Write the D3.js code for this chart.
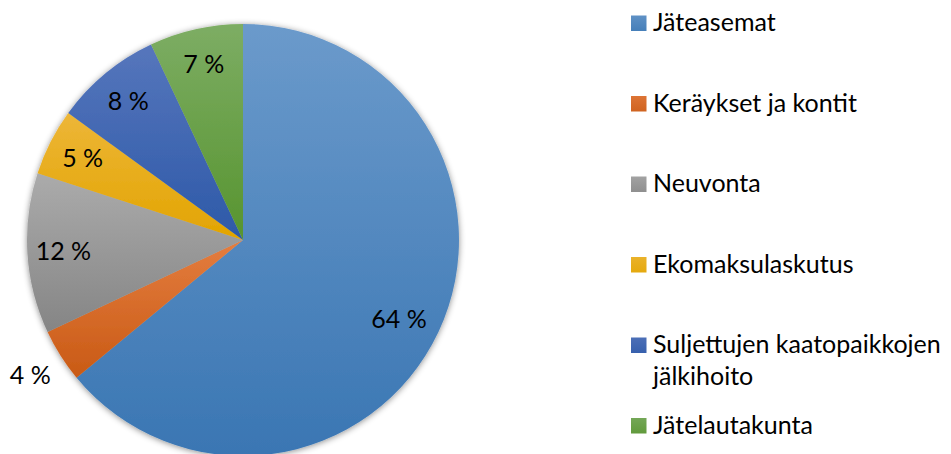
<!DOCTYPE html>
<html><head><meta charset="utf-8">
<script src="https://cdn.jsdelivr.net/npm/d3@7"></script>
<style>body{margin:0;background:#fff}svg{display:block}</style>
</head><body>
<svg id="c" width="951" height="454"></svg>
<script>
// ---- data ----
const categories = ["Jäteasemat", "Keräykset ja kontit", "Neuvonta", "Ekomaksulaskutus", "Suljettujen kaatopaikkojen jälkihoito", "Jätelautakunta"];
const values = [64, 4, 12, 5, 8, 7];
const valueLabels = ["64 %", "4 %", "12 %", "5 %", "8 %", "7 %"];
const legendLines = [["Jäteasemat"], ["Keräykset ja kontit"], ["Neuvonta"], ["Ekomaksulaskutus"], ["Suljettujen kaatopaikkojen", "jälkihoito"], ["Jätelautakunta"]];

// ---- style ----
const colorTop = ["#6b9acb", "#e47d3f", "#ababab", "#edb638", "#5676bc", "#7dad64"];
const colorBottom = ["#3a76b3", "#c95a15", "#858585", "#e2a400", "#2d59a8", "#57942f"];
const FONT = "Lato, 'Open Sans', sans-serif";
const FS = 25;

const svg = d3.select("#c");
const cx = 243, cy = 240, R = 216;
const defs = svg.append("defs");

const f = defs.append("filter").attr("id", "sh").attr("x", "-20%").attr("y", "-20%").attr("width", "140%").attr("height", "140%");
f.append("feDropShadow").attr("dx", 0).attr("dy", 1).attr("stdDeviation", 3).attr("flood-color", "#000").attr("flood-opacity", 0.45);

categories.forEach((c, i) => {
  const g = defs.append("linearGradient").attr("id", "g" + i).attr("x1", 0).attr("y1", 0).attr("x2", 0).attr("y2", 1);
  g.append("stop").attr("offset", "0%").attr("stop-color", colorTop[i]);
  g.append("stop").attr("offset", "100%").attr("stop-color", colorBottom[i]);
  const gl = defs.append("linearGradient").attr("id", "gl" + i).attr("x1", 0).attr("y1", 0).attr("x2", 0).attr("y2", 1);
  gl.append("stop").attr("offset", "0%").attr("stop-color", d3.interpolateRgb(colorTop[i], colorBottom[i])(0.25));
  gl.append("stop").attr("offset", "100%").attr("stop-color", d3.interpolateRgb(colorTop[i], colorBottom[i])(0.75));
});

const pie = d3.pie().sort(null).value(d => d)(values);
const arc = d3.arc().innerRadius(0).outerRadius(R);

const gp = svg.append("g").attr("transform", `translate(${cx},${cy})`);
gp.append("g").attr("filter", "url(#sh)")
  .selectAll("path").data(pie).join("path")
  .attr("d", arc)
  .attr("fill", (d, i) => `url(#g${i})`);

const inR = 180, outR = 252;
gp.selectAll("text.lab").data(pie).join("text")
  .attr("class", "lab")
  .attr("transform", d => {
    const a = (d.startAngle + d.endAngle) / 2;
    const span = d.endAngle - d.startAngle;
    const big = span > Math.PI;
    const r = span < 0.05 * 2 * Math.PI ? outR : big ? 175 : inR;
    const aa = big ? a + 0.03 : a;
    return `translate(${r * Math.sin(aa)},${-r * Math.cos(aa)})`;
  })
  .attr("text-anchor", "middle").attr("dy", "0.35em")
  .attr("font-family", FONT).attr("font-size", FS).attr("fill", "#000")
  .text((d, i) => valueLabels[i]);

// legend
const lg = svg.append("g");
const yPos = d3.scalePoint().domain(d3.range(categories.length)).range([31, 433.5]);
categories.forEach((c, i) => {
  const y = yPos(i);
  lg.append("rect").attr("x", 631).attr("y", y - 15.5).attr("width", 15.5).attr("height", 15.5).attr("fill", `url(#gl${i})`);
  const t = lg.append("text").attr("x", 653).attr("y", y)
    .attr("font-family", FONT).attr("font-size", FS).attr("fill", "#000");
  legendLines[i].forEach((ln, j) => {
    t.append("tspan").attr("x", 653).attr("dy", j === 0 ? 0 : 32).text(ln);
  });
});
</script>
</body></html>
